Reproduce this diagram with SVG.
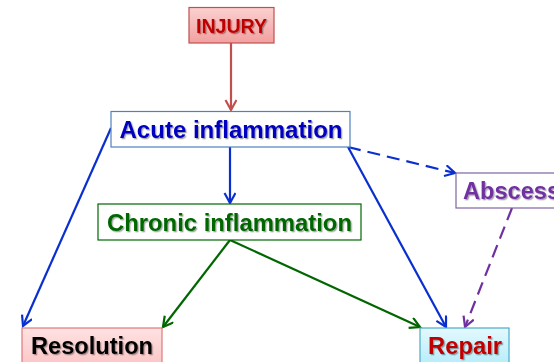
<svg xmlns="http://www.w3.org/2000/svg" width="554" height="362" viewBox="0 0 554 362">
<defs>
<style>
.t{font-family:"Liberation Sans",Arial,sans-serif;font-weight:bold;filter:url(#sh)}
.ln{fill:none;stroke-width:2.2}
.dash{stroke-dasharray:13 7}
</style>
<filter id="sh" x="-10%" y="-30%" width="120%" height="160%">
<feDropShadow dx="1.3" dy="1.3" stdDeviation="0.7" flood-color="#000" flood-opacity="0.35"/>
</filter>
<linearGradient id="gPink" x1="0" y1="0" x2="0" y2="1">
<stop offset="0" stop-color="#fbd0d0"/>
<stop offset="1" stop-color="#f2a0a0"/>
</linearGradient>
<linearGradient id="gPink2" x1="0" y1="0" x2="0" y2="1">
<stop offset="0" stop-color="#ffe2e2"/>
<stop offset="1" stop-color="#fbc4c4"/>
</linearGradient>
<linearGradient id="gCyan" x1="0" y1="0" x2="0" y2="1">
<stop offset="0" stop-color="#e4f8fe"/>
<stop offset="1" stop-color="#b2ecfa"/>
</linearGradient>
<marker id="aRed" markerUnits="userSpaceOnUse" markerWidth="14" markerHeight="14" refX="11" refY="6" orient="auto"><path d="M1,0.5 L11,6 L1,11.5" fill="none" stroke="#c0504d" stroke-width="2.2"/></marker>
<marker id="aBlue" markerUnits="userSpaceOnUse" markerWidth="14" markerHeight="14" refX="11" refY="6" orient="auto"><path d="M1,0.5 L11,6 L1,11.5" fill="none" stroke="#0a2fd0" stroke-width="2.2"/></marker>
<marker id="aGreen" markerUnits="userSpaceOnUse" markerWidth="14" markerHeight="14" refX="11" refY="6" orient="auto"><path d="M1,0.5 L11,6 L1,11.5" fill="none" stroke="#006600" stroke-width="2.2"/></marker>
<marker id="aPurple" markerUnits="userSpaceOnUse" markerWidth="14" markerHeight="14" refX="11" refY="6" orient="auto"><path d="M1,0.5 L11,6 L1,11.5" fill="none" stroke="#7030a0" stroke-width="2.2"/></marker>
</defs>
<rect width="554" height="362" fill="#fff"/>
<g id="connectors">
<line class="ln" x1="231" y1="43" x2="231" y2="110" stroke="#c0504d" marker-end="url(#aRed)"/>
<line class="ln" x1="230" y1="147" x2="230" y2="203" stroke="#0a2fd0" marker-end="url(#aBlue)"/>
<line class="ln" x1="111" y1="128" x2="23" y2="326" stroke="#0a2fd0" marker-end="url(#aBlue)"/>
<line class="ln" x1="348" y1="147" x2="446" y2="327" stroke="#0a2fd0" marker-end="url(#aBlue)"/>
<line class="ln dash" x1="348" y1="147" x2="455" y2="173" stroke="#0a2fd0" marker-end="url(#aBlue)"/>
<line class="ln" x1="230" y1="240" x2="163" y2="327" stroke="#006600" marker-end="url(#aGreen)"/>
<line class="ln" x1="230" y1="240" x2="420" y2="327" stroke="#006600" marker-end="url(#aGreen)"/>
<line class="ln dash" x1="512" y1="208" x2="465" y2="327" stroke="#7030a0" marker-end="url(#aPurple)"/>
</g>
<g id="injury">
<rect x="189" y="7.5" width="85" height="35.5" fill="url(#gPink)" stroke="#c0504d" stroke-width="1.2"/>
<text class="t" x="231.5" y="33" text-anchor="middle" font-size="20" fill="#c00000" textLength="71" lengthAdjust="spacingAndGlyphs">INJURY</text>
</g>
<g id="acute">
<rect x="111" y="111.5" width="239" height="35.5" fill="#fff" stroke="#4f81bd" stroke-width="1.2"/>
<text class="t" x="231" y="138" text-anchor="middle" font-size="23" fill="#0000c0" textLength="223" lengthAdjust="spacingAndGlyphs">Acute inflammation</text>
</g>
<g id="chronic">
<rect x="98" y="204" width="263" height="36" fill="#fff" stroke="#006600" stroke-width="1.2"/>
<text class="t" x="229.5" y="231" text-anchor="middle" font-size="23" fill="#006600" textLength="245" lengthAdjust="spacingAndGlyphs">Chronic inflammation</text>
</g>
<g id="abscess">
<rect x="456" y="173" width="110" height="35" fill="#fff" stroke="#8064a2" stroke-width="1.2"/>
<text class="t" x="463" y="199" font-size="23" fill="#7030a0" textLength="97" lengthAdjust="spacingAndGlyphs">Abscess</text>
</g>
<g id="resolution">
<rect x="22" y="328" width="140" height="40" fill="url(#gPink2)" stroke="#e07a7a" stroke-width="1.2"/>
<text class="t" x="92" y="354" text-anchor="middle" font-size="23" fill="#000" textLength="122" lengthAdjust="spacingAndGlyphs">Resolution</text>
</g>
<g id="repair">
<rect x="420" y="328" width="89" height="40" fill="url(#gCyan)" stroke="#4bacc6" stroke-width="1.2"/>
<text class="t" x="465" y="354" text-anchor="middle" font-size="23" fill="#c00000" textLength="74" lengthAdjust="spacingAndGlyphs">Repair</text>
</g>
</svg>
